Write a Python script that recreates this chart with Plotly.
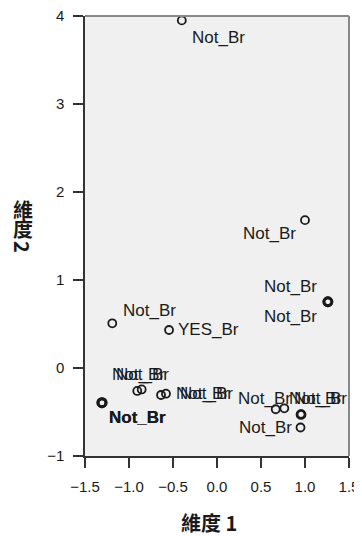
import plotly.graph_objects as go

# object labels and their coordinates in the two MDS dimensions
labels = ["Not_Br", "Not_Br", "Not_Br", "Not_Br", "Not_Br", "YES_Br",
          "Not_Br", "Not_Br", "Not_Br", "Not_Br", "Not_Br", "Not_Br",
          "Not_Br", "Not_Br", "Not_Br", "Not_Br"]
dim1 = [-0.40, 1.00, 1.26, 1.26, -1.19, -0.545,
        -0.906, -0.856, -0.636, -0.580, -1.307, -1.307,
        0.667, 0.765, 0.955, 0.949]
dim2 = [3.95, 1.68, 0.753, 0.753, 0.508, 0.432,
        -0.261, -0.244, -0.307, -0.292, -0.394, -0.394,
        -0.469, -0.458, -0.528, -0.676]

# label placement (pixel offsets from each point) and styling
label_dx = [37, -36, -37, -37, 37, 39, 1, 1, 41, 41, 36, 36, -11, 31, 19, -35]
label_dy = [-17, -13, 15, -15, 13, 0, 16, 15, 2, 0, -15, -15, 11, 10, 16, 0]
label_bold = [False] * 10 + [True, True] + [False] * 4
ring_width = [1.8, 1.8, 2.8, 2.8, 1.8, 1.8, 1.8, 1.8, 1.8, 1.8, 3.0, 3.0, 1.8, 1.8, 2.8, 1.8]

FONT = "Liberation Sans, Arial, sans-serif"
CJK = "Noto Sans CJK TC, Noto Sans CJK SC, sans-serif"

fig = go.Figure()
fig.add_scatter(
    x=dim1, y=dim2, mode="markers", showlegend=False, cliponaxis=False,
    marker=dict(symbol="circle-open", size=8, color="#1a1a1a",
                line=dict(width=ring_width, color="#1a1a1a")),
)

for i in range(len(labels)):
    fig.add_annotation(
        x=dim1[i], y=dim2[i], text=labels[i], showarrow=False,
        xshift=label_dx[i], yshift=label_dy[i],
        font=dict(family=FONT, size=17, color="#1a1a1a",
                  weight="bold" if label_bold[i] else "normal"),
    )

# axis titles
fig.add_annotation(xref="paper", yref="paper", x=0.47, y=0, yshift=-66,
                   xanchor="center", yanchor="middle", text="維度 1", showarrow=False,
                   font=dict(family=CJK, size=20, color="#1a1a1a", weight="bold"))
for ch, yy, ang in [("維", 0.561, 0), ("度", 0.518, 0), ("2", 0.475, 90)]:
    fig.add_annotation(xref="paper", yref="paper", x=-0.235, y=yy,
                       xanchor="center", yanchor="middle", text=ch, showarrow=False,
                       textangle=ang,
                       font=dict(family=CJK, size=20, color="#1a1a1a", weight="bold"))

axis_style = dict(
    showgrid=False, zeroline=False, showline=True, linecolor="#333333",
    linewidth=1.5, ticks="outside", ticklen=10, tickwidth=1.5,
    tickcolor="#333333", ticklabeloverflow="allow",
    tickfont=dict(family=FONT, size=15, color="#1a1a1a"),
)
fig.update_xaxes(range=[-1.5, 1.5], dtick=0.5, tick0=-1.5, tickformat=".1f",
                 ticklabelstandoff=6, **axis_style)
fig.update_yaxes(range=[-1, 4], dtick=1, tick0=-1, ticklabelstandoff=6, **axis_style)

# page body keeps an 8px margin, so the figure is sized to fit inside it
fig.update_layout(
    width=354, height=528,
    margin=dict(l=77, r=13, t=8, b=80, autoexpand=False),
    paper_bgcolor="white",
    plot_bgcolor="#f0f0f0",
    shapes=[
        dict(type="line", xref="paper", yref="paper", x0=0, x1=1, y0=1, y1=1,
             line=dict(color="#888888", width=2)),
        dict(type="line", xref="paper", yref="paper", x0=1, x1=1, y0=0, y1=1,
             line=dict(color="#888888", width=2)),
    ],
)

fig.write_html("out.html")
